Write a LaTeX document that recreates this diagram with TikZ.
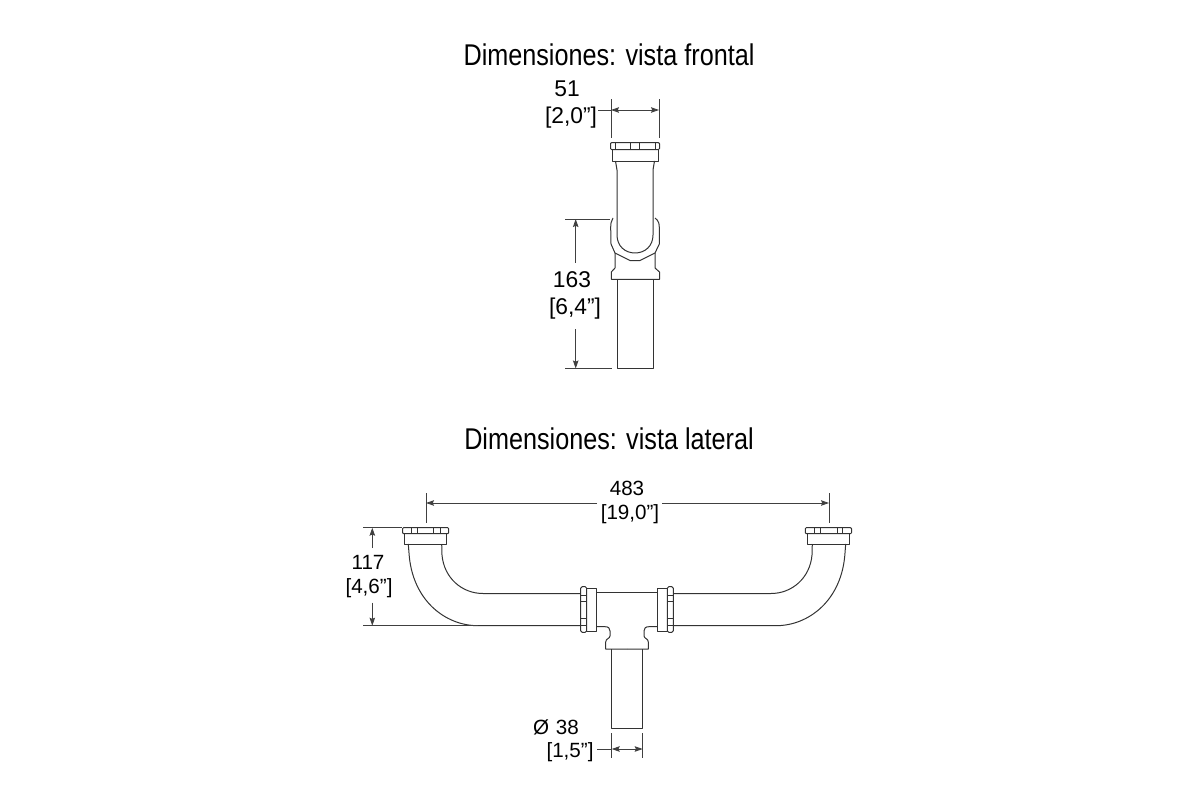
\documentclass[tikz,border=0pt]{standalone}
\usepackage{fontspec}
\usepackage{tikz}
\usetikzlibrary{arrows.meta}
\setmainfont{Liberation Sans}
\newfontfamily\titlefont[FakeStretch=0.84]{Liberation Sans}

\begin{document}
\begin{tikzpicture}[x=1pt,y=-1pt]
        % Define styles
        \tikzset{
            heading/.style={inner sep=0pt, font=\titlefont\fontsize{30}{30}\selectfont},
            dimtext/.style={inner sep=0pt, font=\fontsize{22.8}{24}\selectfont},
            dimsmall/.style={inner sep=0pt, font=\fontsize{20.6}{22}\selectfont},
            pipe/.style={draw=black!80, line width=1pt, line join=round},
            extline/.style={draw=black!75, line width=0.9pt},
            arrow/.style={extline, -{Stealth[length=8pt,width=5.5pt,inset=1.2pt]}}
        }
        \useasboundingbox (0,0) rectangle (1200,800);

        % Titles
        \node[heading] (title_front) at (609,55) {Dimensiones: vista frontal};
        \node[heading] (title_side) at (609,439) {Dimensiones: vista lateral};

        % Front view: nut
        \draw[pipe, rounded corners=1pt] (610.5,142.7) rectangle (659.5,149.5);
        \draw[pipe] (615,143) -- (615,149.5) (630.7,143) -- (630.7,149.5) (639,143) -- (639,149.5) (655,143) -- (655,149.5);
        \draw[pipe] (612,149.5) rectangle (658,161);
        % Front view: pipe and elbow
        \draw[pipe] (615.5,161) -- (617,170) -- (617,235) .. controls (617,246) and (625,253) .. (635,253)
            .. controls (645,253) and (653,246) .. (653,235) -- (653,170) -- (654.5,161);
        \draw[pipe] (613,218) .. controls (611,221) and (610.7,224) .. (610.7,228) -- (611,244) -- (615,253) -- (630,260.5) -- (640,260.5) -- (655,253)
            -- (659.3,244) -- (659.3,228) .. controls (659.3,224) and (659,221) .. (655,218);
        \draw[pipe] (615,253) -- (615,268) -- (611.3,272) -- (611.3,279.3) -- (659.5,279.3) -- (659.5,272) -- (655,268) -- (655,253);
        \draw[pipe] (617,279.3) -- (617,368.5) -- (653,368.5) -- (653,279.3);

        % Side view: both ends
        \foreach \m/\o in {1/0,-1/1254}{
            \begin{scope}[x=\m pt, xshift=\o pt]
                \draw[pipe, rounded corners=1pt] (402.5,527.7) rectangle (448.7,533.7);
                \draw[pipe] (411.7,528) -- (411.7,533.7) (417,528) -- (417,533.7) (433.7,528) -- (433.7,533.7) (440,528) -- (440,533.7);
                \draw[pipe] (404.7,533.7) rectangle (446.7,544);
                \draw[pipe] (408.3,544) -- (409,553) .. controls (412,600) and (445,625.7) .. (478,625.7) -- (580.7,625.7);
                \draw[pipe] (441.7,544) -- (442,555) .. controls (444,578) and (462,593.5) .. (483,593.5) -- (580.7,593.5);
                \draw[pipe, rounded corners=1.5pt] (580.7,586.7) rectangle (586.7,632.3);
                \draw[pipe] (581,595) -- (586.7,595) (581,601.7) -- (586.7,601.7) (581,618) -- (586.7,618) (581,625) -- (586.7,625);
                \draw[pipe] (586.7,588.3) rectangle (596.3,631);
                \draw[pipe] (596.3,626.7) -- (605,626.7) .. controls (608.5,626.7) and (610,628) .. (610,631) -- (610,636)
                    .. controls (610,638.5) and (605.7,638.5) .. (605.7,642) -- (605.7,649) -- (627,649);
                \draw[pipe] (611.3,649) -- (611.3,728.3) -- (627,728.3);
            \end{scope}
        }
        \draw[pipe] (596.3,592) -- (657.7,592);

        % Dimension labels
        \node[dimtext] (label_51) at (567,89) {51};
        \node[dimtext] (label_51b) at (571,118) {[2,0”]};
        \node[dimtext] (label_163) at (572,280) {163};
        \node[dimtext] (label_163b) at (575,309) {[6,4”]};
        \node[dimsmall] (label_483) at (627,488) {483};
        \node[dimsmall] (label_483b) at (630,514) {[19,0”]};
        \node[dimsmall] (label_117) at (368,562) {117};
        \node[dimsmall] (label_117b) at (369,588) {[4,6”]};
        \node[dimsmall] (label_38) at (556,727) {Ø\,\,38};
        \node[dimsmall] (label_38b) at (570,752) {[1,5”]};

        % Dimension points
        \coordinate (w_a) at (611,99);   \coordinate (w_b) at (611,138);
        \coordinate (w_c) at (659,99);   \coordinate (w_d) at (659,138);
        \coordinate (w_s) at (598,110);  \coordinate (w_o) at (635,110);
        \coordinate (w_l) at (611,110);  \coordinate (w_r) at (659,110);
        \coordinate (h_a) at (565,219);  \coordinate (h_b) at (610,219);
        \coordinate (h_c) at (565,368.5);\coordinate (h_d) at (612,368.5);
        \coordinate (h_t) at (575.7,219);\coordinate (h_m) at (575.7,262.5);
        \coordinate (h_n) at (575.7,329);\coordinate (h_e) at (575.7,368.5);
        \coordinate (s_a) at (426,493);  \coordinate (s_b) at (426,523);
        \coordinate (s_c) at (829,493);  \coordinate (s_d) at (829,523);
        \coordinate (s_l) at (426,503);  \coordinate (s_m) at (597,503);
        \coordinate (s_n) at (662,503);  \coordinate (s_r) at (829,503);
        \coordinate (v_a) at (363,527.7);\coordinate (v_b) at (402,527.7);
        \coordinate (v_c) at (363,625.7);\coordinate (v_d) at (478,625.7);
        \coordinate (v_t) at (372.3,527.7);\coordinate (v_m) at (372.3,548);
        \coordinate (v_n) at (372.3,602.7);\coordinate (v_e) at (372.3,625.7);
        \coordinate (d_a) at (611.7,733);\coordinate (d_b) at (611.7,758);
        \coordinate (d_c) at (642.7,733);\coordinate (d_d) at (642.7,758);
        \coordinate (d_s) at (597,749);  \coordinate (d_o) at (627,749);
        \coordinate (d_l) at (611.7,749);\coordinate (d_r) at (642.7,749);

        % Arrows
        \draw[extline] (w_a) -- (w_b);
        \draw[extline] (w_c) -- (w_d);
        \draw[extline] (w_s) -- (w_l);
        \draw[arrow] (w_o) -- (w_l);
        \draw[arrow] (w_o) -- (w_r);
        \draw[extline] (h_a) -- (h_b);
        \draw[extline] (h_c) -- (h_d);
        \draw[arrow] (h_m) -- (h_t);
        \draw[arrow] (h_n) -- (h_e);
        \draw[extline] (s_a) -- (s_b);
        \draw[extline] (s_c) -- (s_d);
        \draw[arrow] (s_m) -- (s_l);
        \draw[arrow] (s_n) -- (s_r);
        \draw[extline] (v_a) -- (v_b);
        \draw[extline] (v_c) -- (v_d);
        \draw[arrow] (v_m) -- (v_t);
        \draw[arrow] (v_n) -- (v_e);
        \draw[extline] (d_a) -- (d_b);
        \draw[extline] (d_c) -- (d_d);
        \draw[extline] (d_s) -- (d_l);
        \draw[arrow] (d_o) -- (d_l);
        \draw[arrow] (d_o) -- (d_r);
\end{tikzpicture}
\end{document}
